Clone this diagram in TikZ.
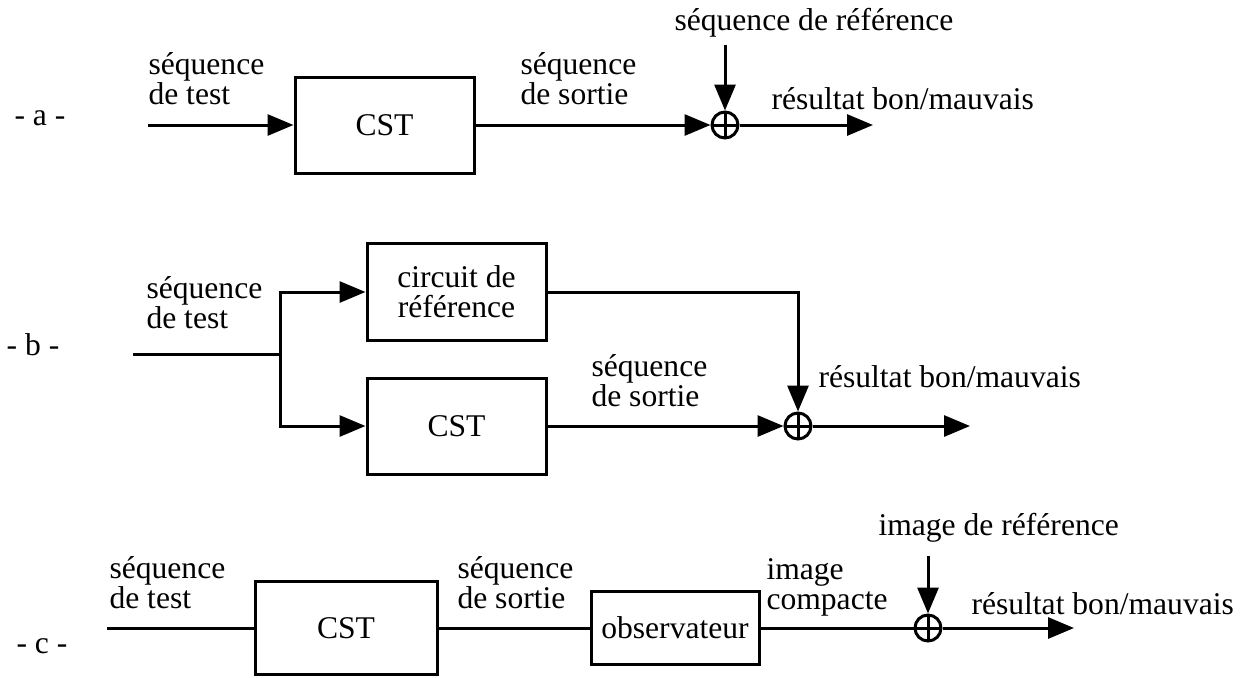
\documentclass[tikz,border=0pt]{standalone}
\usepackage{fontspec}
\setmainfont{Liberation Serif}
\usetikzlibrary{arrows.meta}

\tikzset{
  fleche/.style={-{Triangle[length=13pt,width=10.5pt]}},
  bloc/.style={draw, align=center, inner sep=0pt},
  somme/.style={circle, draw, minimum size=13pt, inner sep=0pt,
    path picture={\draw (path picture bounding box.north) -- (path picture bounding box.south)
      (path picture bounding box.west) -- (path picture bounding box.east);}},
  legende/.style={align=left, inner sep=0pt, text depth=0pt, anchor=south west},
}

\begin{document}
\begin{tikzpicture}[x=0.5pt, y=-0.5pt, line width=1.5pt,
  every node/.style={font=\fontsize{15.8}{15}\selectfont}]
  \useasboundingbox (0,0) rectangle (1253,677);

  % reperes
  \foreach \lettre/\x/\y in {a/40/125, b/33/355, c/42/653}
    \node[anchor=base, inner sep=0pt] (lab\lettre) at (\x,\y) {- \lettre\ -};

  % schema a
  \coordinate (ea) at (148,125);
  \node[bloc, minimum width=89.5pt, minimum height=48pt] (csta) at (384.5,125) {CST};
  \node[somme] (sa) at (725,125) {};
  \coordinate (ra) at (725,45);
  \coordinate (fa) at (873,125);
  \draw[fleche] (ea) -- (csta);
  \draw[fleche] (csta) -- (sa);
  \draw[fleche] (ra) -- (sa);
  \draw[fleche] (sa) -- (fa);
  \node[legende] (tea) at (147,106) {séquence\\de test};
  \node[legende] (tsa) at (519,106) {séquence\\de sortie};
  \node[legende, anchor=base west] (tra) at (673,30) {séquence de référence};
  \node[legende, anchor=base west] (tba) at (770,109) {résultat bon/mauvais};

  % schema b
  \coordinate (eb) at (133,354);
  \coordinate (jb) at (280,354);
  \node[bloc, minimum width=89.5pt, minimum height=48.5pt] (refb) at (456.5,292) {circuit de\\référence};
  \node[bloc, minimum width=89.5pt, minimum height=48pt] (cstb) at (456.5,426) {CST};
  \node[somme] (sb) at (798,426) {};
  \coordinate (fb) at (970,426);
  \draw (eb) -- (jb);
  \draw[fleche] (jb) |- (refb.west);
  \draw[fleche] (jb) |- (cstb.west);
  \draw[fleche] (refb.east) -| (sb);
  \draw[fleche] (cstb) -- (sb);
  \draw[fleche] (sb) -- (fb);
  \node[legende] (teb) at (145,330) {séquence\\de test};
  \node[legende] (tsb) at (590,408) {séquence\\de sortie};
  \node[legende, anchor=base west] (tbb) at (817,387) {résultat bon/mauvais};

  % schema c
  \coordinate (ec) at (107,628);
  \node[bloc, minimum width=91pt, minimum height=46.5pt] (cstc) at (346,628) {CST};
  \node[bloc, minimum width=84pt, minimum height=36.5pt] (obsc) at (675,628) {observateur};
  \node[somme] (sc) at (928,628) {};
  \coordinate (rc) at (928,556);
  \coordinate (fc) at (1074,628);
  \draw (ec) -- (cstc);
  \draw (cstc) -- (obsc);
  \draw (obsc) -- (sc);
  \draw[fleche] (rc) -- (sc);
  \draw[fleche] (sc) -- (fc);
  \node[legende] (tec) at (108,610) {séquence\\de test};
  \node[legende] (tsc) at (456,610) {séquence\\de sortie};
  \node[legende] (tic) at (765,611) {image\\compacte};
  \node[legende, anchor=base west] (trc) at (877,535) {image de référence};
  \node[legende, anchor=base west] (tbc) at (970,614) {résultat bon/mauvais};
\end{tikzpicture}
\end{document}
